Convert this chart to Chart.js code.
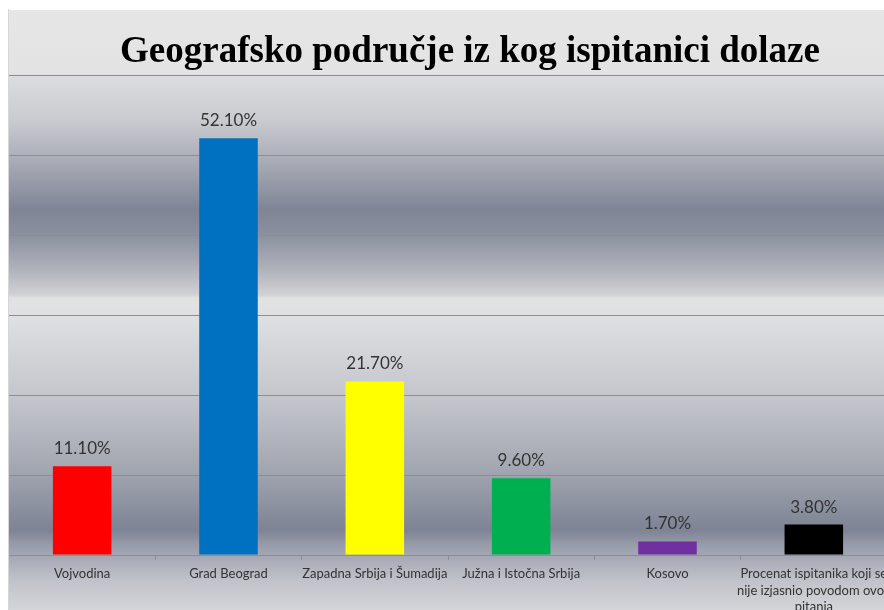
<!DOCTYPE html>
<html>
<head>
<meta charset="utf-8">
<script src="https://cdn.jsdelivr.net/npm/chart.js@4.4.0/dist/chart.umd.min.js"></script>
<style>
    html, body { margin: 0; padding: 0; background: #fff; overflow: hidden; }
    #wrap {
        position: absolute; left: 9px; top: 10px;
        width: 922px; height: 600px;
    }
    #edge {
        position: absolute; left: 8px; top: 9px; width: 1px; height: 601px;
        background: #d6d6d6;
    }
</style>
</head>
<body>
<div id="edge"></div>
<div id="wrap"><canvas id="chart"></canvas></div>
<script>
// Data
const categories = [
    'Vojvodina',
    'Grad Beograd',
    'Zapadna Srbija i Šumadija',
    'Južna i Istočna Srbija',
    'Kosovo',
    ['Procenat ispitanika koji se', 'nije izjasnio povodom ovog', 'pitanja']
];
const values = [11.1, 52.1, 21.7, 9.6, 1.7, 3.8];
const barColors = ['#ff0000', '#0070c0', '#ffff00', '#00b050', '#7030a0', '#000000'];
const yMin = 0;
const yMax = 60;
const yStep = 10;

// Banded grey background (Excel style)
const bandBackground = {
    id: 'bandBackground',
    beforeDraw(chart) {
        const { ctx, width, height } = chart;
        const g = ctx.createLinearGradient(0, 0, 0, height);
        const stops = [
            [0, '#e6e6e6'], [64, '#e3e3e3'], [65, '#dcdde0'], [110, '#c9cbd0'],
            [145, '#aeb1ba'], [200, '#7f8496'], [225, '#8c91a0'], [260, '#b0b3bb'],
            [285, '#d1d2d5'], [288, '#e2e2e3'], [305, '#dfe0e2'], [390, '#c3c5cb'],
            [460, '#a2a6b0'], [520, '#7e8395'], [535, '#989caa'], [570, '#c0c2c9'],
            [600, '#d4d5d9']
        ];
        stops.forEach(([y, c]) => g.addColorStop(Math.min(1, y / height), c));
        ctx.save();
        ctx.fillStyle = g;
        ctx.fillRect(0, 0, width, height);
        ctx.restore();
    }
};

// Percent labels above the bars
const valueLabels = {
    id: 'valueLabels',
    afterDatasetsDraw(chart) {
        const ctx = chart.ctx;
        const meta = chart.getDatasetMeta(0);
        ctx.save();
        ctx.font = '17px Lato, "Liberation Sans", sans-serif';
        ctx.fillStyle = '#333333';
        ctx.textAlign = 'center';
        ctx.textBaseline = 'alphabetic';
        meta.data.forEach((bar, i) => {
            ctx.fillText(values[i].toFixed(2) + '%', bar.x, bar.y - 12);
        });
        ctx.restore();
    }
};

const gridColor = '#8b8e98';

new Chart(document.getElementById('chart'), {
    type: 'bar',
    data: {
        labels: categories,
        datasets: [{
            data: values,
            backgroundColor: barColors,
            borderWidth: 0,
            barPercentage: 0.4,
            categoryPercentage: 1
        }]
    },
    options: {
        responsive: true,
        maintainAspectRatio: false,
        animation: false,
        layout: { padding: 0 },
        plugins: {
            legend: { display: false },
            tooltip: { enabled: false },
            title: {
                display: true,
                text: 'Geografsko područje iz kog ispitanici dolaze',
                color: '#000',
                font: { family: '"Liberation Serif", "Times New Roman", serif', size: 37, weight: 'bold' },
                padding: { top: 20, bottom: 0.6 }
            }
        },
        scales: {
            x: {
                grid: { drawOnChartArea: false, drawTicks: true, tickLength: 5, tickColor: gridColor, offset: true },
                border: { color: gridColor },
                ticks: {
                    color: '#333333',
                    font: { family: 'Lato, "Liberation Sans", sans-serif', size: 13, lineHeight: 1.25 },
                    padding: 6,
                    maxRotation: 0,
                    autoSkip: false
                },
                afterFit: s => { s.height = 55; }
            },
            y: {
                position: 'right',
                min: yMin,
                max: yMax,
                ticks: { display: false, stepSize: yStep },
                grid: { color: gridColor, drawTicks: false },
                border: { display: false },
                afterFit: s => { s.width = 44; }
            }
        }
    },
    plugins: [bandBackground, valueLabels]
});
</script>
</body>
</html>
